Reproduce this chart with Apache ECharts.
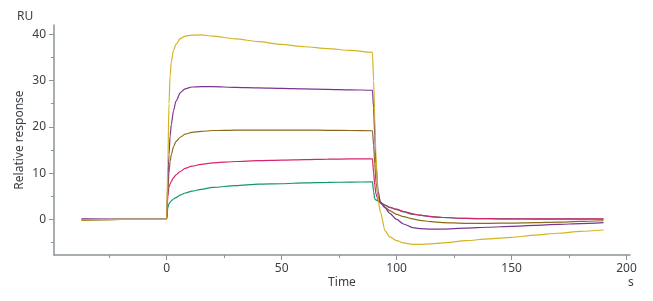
<!DOCTYPE html>
<html>
<head>
<meta charset="utf-8">
<script src="https://cdn.jsdelivr.net/npm/echarts@6/dist/echarts.min.js"></script>
<style>
  html, body { margin: 0; padding: 0; background: #fff; }
  #main { width: 653px; height: 301px; }
</style>
</head>
<body>
<div id="main"></div>
<script>
// time points (s), shared by every curve
var times = [-37, -20, 0, 0.5, 1, 1.5, 2, 3, 4, 6, 8, 11, 15, 20, 30, 40, 50, 60, 70, 80, 89.5,
  90, 90.5, 91, 92, 93, 95, 97, 100, 103, 107, 110, 115, 120, 130, 140, 150, 160, 170, 180, 190];

// responses (RU), one value per time point
var yellowRU = [-0.1, 0, 0, 12, 25, 31, 34, 36.6, 37.8, 39.1, 39.6, 39.8, 39.85, 39.6, 39.0, 38.4, 37.8, 37.3, 36.9, 36.5, 36.1,
  30, 22, 14, 4, 1.5, -2.5, -3.8, -4.6, -5.1, -5.4, -5.4, -5.3, -5.1, -4.6, -4.2, -3.9, -3.4, -3.0, -2.6, -2.3];
var purpleRU = [0.1, 0, 0, 8, 14, 18, 20.5, 23.5, 25.5, 27.4, 28.2, 28.6, 28.7, 28.7, 28.5, 28.4, 28.3, 28.2, 28.1, 28.0, 27.9,
  24, 18, 12, 6, 3.5, 2.5, 1.3, 0.0, -1.0, -1.8, -2.0, -2.1, -2.1, -1.9, -1.7, -1.5, -1.3, -1.1, -0.9, -0.7];
var brownRU = [-0.2, 0, 0, 6, 10, 12.5, 14, 15.7, 16.8, 17.8, 18.4, 18.8, 19.0, 19.2, 19.3, 19.3, 19.3, 19.3, 19.25, 19.2, 19.15,
  16, 12, 8, 5, 3.8, 2.6, 1.9, 1.1, 0.6, 0.1, -0.2, -0.5, -0.7, -0.85, -0.85, -0.8, -0.7, -0.6, -0.45, -0.3];
var magentaRU = [0, 0, 0, 5, 7, 7.6, 8.2, 9.0, 9.6, 10.4, 11.0, 11.5, 11.9, 12.2, 12.5, 12.7, 12.8, 12.9, 13.0, 13.05, 13.1,
  10, 7.5, 5.5, 4.2, 3.6, 3.0, 2.6, 2.2, 1.7, 1.2, 0.9, 0.6, 0.4, 0.2, 0.15, 0.1, 0.1, 0.1, 0.1, 0.1];
var greenRU = [-0.1, 0, 0, 2.5, 3.4, 3.7, 4.0, 4.4, 4.7, 5.3, 5.7, 6.1, 6.5, 6.9, 7.3, 7.6, 7.7, 7.9, 8.0, 8.05, 8.1,
  6, 4.4, 4.2, 4.0, 3.6, 3.1, 2.6, 2.1, 1.6, 1.1, 0.9, 0.6, 0.4, 0.2, 0.15, 0.1, 0.05, 0.05, 0.05, 0.05];

// axis ticks
var xTicks = [0, 50, 100, 150, 200];
var xMinorTicks = [-25, 25, 75, 125, 175];
var yTicks = [0, 10, 20, 30, 40];
var yMinorTicks = [-5, 5, 15, 25, 35];

var axisColor = "#8a9499";
var textColor = "#3a3f44";
var fontFamily = "Noto Sans";

function pairs(values) {
  var out = [];
  for (var i = 0; i < times.length; i++) {
    out.push([times[i], values[i]]);
  }
  return out;
}

function curve(values, color) {
  return {
    type: "line",
    data: pairs(values),
    showSymbol: false,
    smooth: 0.25,
    smoothMonotone: "x",
    lineStyle: { color: color, width: 1.2 },
    itemStyle: { color: color },
    animation: false
  };
}

var chart = echarts.init(document.getElementById("main"));
var option = {
  backgroundColor: "#fff",
  animation: false,
  grid: { left: 54, right: 23, top: 25, bottom: 46 },
  xAxis: [{
    type: "value",
    min: -49,
    max: 201.5,
    name: "Time",
    nameLocation: "middle",
    nameGap: 22,
    nameMoveOverlap: false,
    nameTextStyle: { color: textColor, fontSize: 12, fontFamily: fontFamily },
    axisLine: { onZero: false, lineStyle: { color: axisColor, width: 1.5 } },
    axisTick: { show: true, length: 5, customValues: xTicks, lineStyle: { color: axisColor } },
    axisLabel: { customValues: xTicks, color: textColor, fontSize: 12, fontFamily: fontFamily, margin: 8 },
    splitLine: { show: false }
  }, {
    type: "value",
    min: -49,
    max: 201.5,
    position: "bottom",
    axisLine: { show: false, onZero: false },
    axisTick: { show: true, length: 3, customValues: xMinorTicks, lineStyle: { color: axisColor } },
    axisLabel: { show: false },
    splitLine: { show: false }
  }],
  yAxis: [{
    type: "value",
    min: -7.7,
    max: 42,
    name: "Relative response",
    nameLocation: "middle",
    nameGap: 28,
    nameMoveOverlap: false,
    nameTextStyle: { color: textColor, fontSize: 12, fontFamily: fontFamily },
    axisLine: { show: true, onZero: false, lineStyle: { color: axisColor, width: 1.5 } },
    axisTick: { show: true, length: 5, customValues: yTicks, lineStyle: { color: axisColor } },
    axisLabel: { customValues: yTicks, color: textColor, fontSize: 12, fontFamily: fontFamily, margin: 8 },
    splitLine: { show: false }
  }, {
    type: "value",
    min: -7.7,
    max: 42,
    position: "left",
    axisLine: { show: false, onZero: false },
    axisTick: { show: true, length: 3, customValues: yMinorTicks, lineStyle: { color: axisColor } },
    axisLabel: { show: false },
    splitLine: { show: false }
  }],
  graphic: [
    { type: "text", left: 17, top: 11, style: { text: "RU", fill: textColor, font: "12px Noto Sans" } },
    { type: "text", left: 628, top: 277, style: { text: "s", fill: textColor, font: "12px Noto Sans" } }
  ],
  series: [
    curve(greenRU, "#14966c"),
    curve(magentaRU, "#d6246e"),
    curve(brownRU, "#8c6a1c"),
    curve(purpleRU, "#7a3592"),
    curve(yellowRU, "#d4b424")
  ]
};
chart.setOption(option);
</script>
</body>
</html>
